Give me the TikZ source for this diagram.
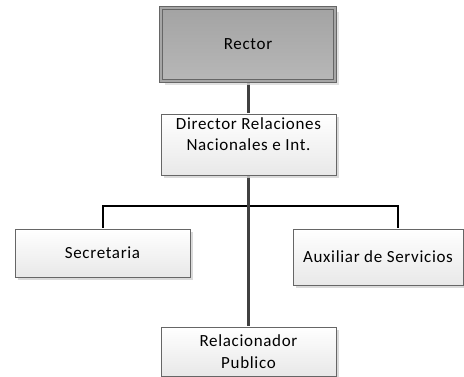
\documentclass[tikz,border=0pt]{standalone}
\usepackage{fontspec}
\setmainfont[LetterSpace=4]{Carlito}
\usetikzlibrary{shadows,backgrounds}
\begin{document}
\begin{tikzpicture}[x=1pt,y=-1pt,
  font=\fontsize{17}{21.5}\selectfont,
  unit/.style={draw=black!60, line width=0.8pt, top color=white, bottom color=black!9,
    align=center, inner sep=0pt,
    drop shadow={shadow xshift=3pt, shadow yshift=-3pt, fill=black!18, opacity=0.8}},
  head/.style={draw=black!60, line width=0.8pt, double=black!35, double distance=2.2pt,
    top color=black!36, bottom color=black!28, align=center, inner sep=0pt,
    drop shadow={shadow xshift=4pt, shadow yshift=-4pt, fill=black!15, opacity=0.8}},
  trunk/.style={draw=black!75, line width=3pt},
  branch/.style={draw=black, line width=2pt}]
\useasboundingbox (0,0) rectangle (464,377);

\node[head, minimum width=174pt, minimum height=73pt] (rector) at (248,44.5) {Rector};
\node[unit, minimum width=175pt, minimum height=61pt] (director) at (248.5,144.5) {Director Relaciones\\Nacionales e Int.\\[-1pt]\mbox{}};
\node[unit, minimum width=175pt, minimum height=48pt] (secre) at (102.5,253) {Secretaria};
\node[unit, minimum width=170pt, minimum height=56pt] (aux) at (378,257) {Auxiliar de Servicios};
\node[unit, minimum width=175pt, minimum height=49pt] (rel) at (248.5,351.5) {Relacionador\\Publico};

\coordinate (bar) at (248,206);
\coordinate (barL) at (102.5,206);
\coordinate (barR) at (397.5,206);

\begin{scope}[on background layer]
  \draw[branch] (secre.north) -- (barL) -- (barR) -- (barR |- aux.north);
  \draw[trunk] (rector.south -| bar) -- (director.north -| bar);
  \draw[trunk] (director.south -| bar) -- (rel.north -| bar);
\end{scope}
\end{tikzpicture}
\end{document}
